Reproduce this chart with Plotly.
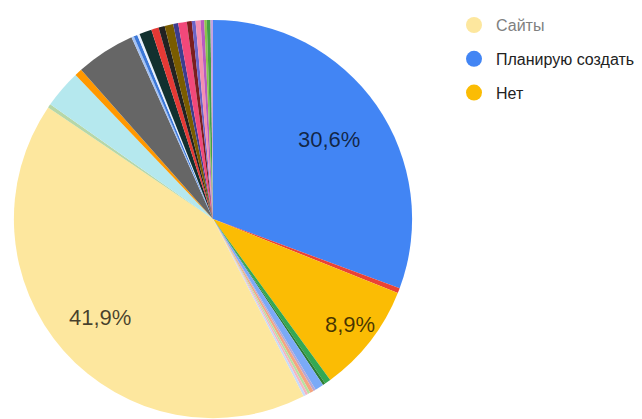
import math
import plotly.graph_objects as go

# slices clockwise from 12 o'clock
labels = [
    "Планирую создать", "Другое 1", "Нет", "Другое 2", "Другое 3", "Другое 4",
    "Другое 5", "Другое 6", "Другое 7", "Другое 8", "Другое 9", "Сайты",
    "Другое 10", "Другое 11", "Другое 12", "Другое 13", "Другое 14", "Другое 15",
    "Другое 16", "Другое 17", "Другое 18", "Другое 19", "Другое 20", "Другое 21",
    "Другое 22", "Другое 23", "Другое 24", "Другое 25", "Другое 26", "Другое 27",
    "Другое 28", "Другое 29",
]
values = [
    30.6, 0.4, 8.9, 0.5, 0.2, 0.7,
    0.2, 0.3, 0.2, 0.2, 0.2, 41.9,
    0.3, 3.1, 0.6, 4.8, 0.2, 0.3,
    0.2, 1.0, 0.6, 0.5, 0.7, 0.4,
    0.7, 0.4, 0.3, 0.4, 0.3, 0.2,
    0.3, 0.2,
]
colors = [
    "#4285F4", "#EA4335", "#FBBC04", "#34A853", "#2E7D32", "#7BAAF7",
    "#B4A7D6", "#F4A582", "#B7E1A1", "#F4B6C2", "#C9DAF8", "#FDE79E",
    "#B6D7A8", "#B5E8EE", "#FF9800", "#666666", "#A4C2F4", "#3C78D8",
    "#E8F0FE", "#12302F", "#E53935", "#222222", "#7A5C00", "#3D3D8F",
    "#F2487A", "#7B1E1E", "#6C63C6", "#F48FB1", "#B85BC0", "#8BC34A",
    "#43A047", "#C5A3E0",
]
pct_labels = {"Планирую создать": "30,6%", "Нет": "8,9%", "Сайты": "41,9%"}

legend_names = ["<span style='color:#808080'>Сайты</span>", "Планирую создать", "Нет"]
legend_colors = ["#FDE79E", "#4285F4", "#FBBC04"]

W, H = 642, 419
CX, CY, R = 205, 208, 202          # pie centre / radius in figure pixels
label_r = {"Планирую создать": 0.70, "Нет": 0.86, "Сайты": 0.75}

fig = go.Figure()
fig.add_trace(go.Pie(
    labels=labels, values=values,
    textinfo="none",
    marker=dict(colors=colors, line=dict(width=0)),
    sort=False, direction="clockwise", rotation=0,
    showlegend=False, hoverinfo="label+percent",
    domain=dict(x=[(CX - R) / W, (CX + R) / W], y=[1 - (CY + R) / H, 1 - (CY - R) / H]),
))

# percentage labels placed at the middle angle of their slice
total = sum(values)
cum = 0
for lab, v in zip(labels, values):
    if lab in pct_labels:
        theta = 2 * math.pi * (cum + v / 2) / total
        r = label_r[lab] * R
        fig.add_annotation(
            x=(CX + r * math.sin(theta)) / W, y=1 - (CY - r * math.cos(theta)) / H,
            xref="paper", yref="paper", xanchor="center", yanchor="middle",
            text=pct_labels[lab], showarrow=False,
            font=dict(size=22, color="rgba(0,0,0,0.72)"),
        )
    cum += v

for i, (name, c) in enumerate(zip(legend_names, legend_colors)):
    fig.add_trace(go.Scatter(
        x=[None], y=[None], mode="markers", name=name,
        legendgroup=str(i),
        marker=dict(size=17, color=c, symbol="circle"),
    ))

fig.update_layout(
    width=W, height=H,
    margin=dict(l=0, r=0, t=0, b=0),
    paper_bgcolor="white", plot_bgcolor="white",
    font=dict(family="Arial, Liberation Sans, sans-serif", size=16, color="#222222"),
    xaxis=dict(visible=False), yaxis=dict(visible=False),
    legend=dict(
        x=444 / W, y=1 + 6 / H, xanchor="left", yanchor="top",
        traceorder="grouped", tracegroupgap=10,
        font=dict(size=16), itemwidth=34, bgcolor="rgba(0,0,0,0)",
    ),
)

fig.write_html("out.html")
